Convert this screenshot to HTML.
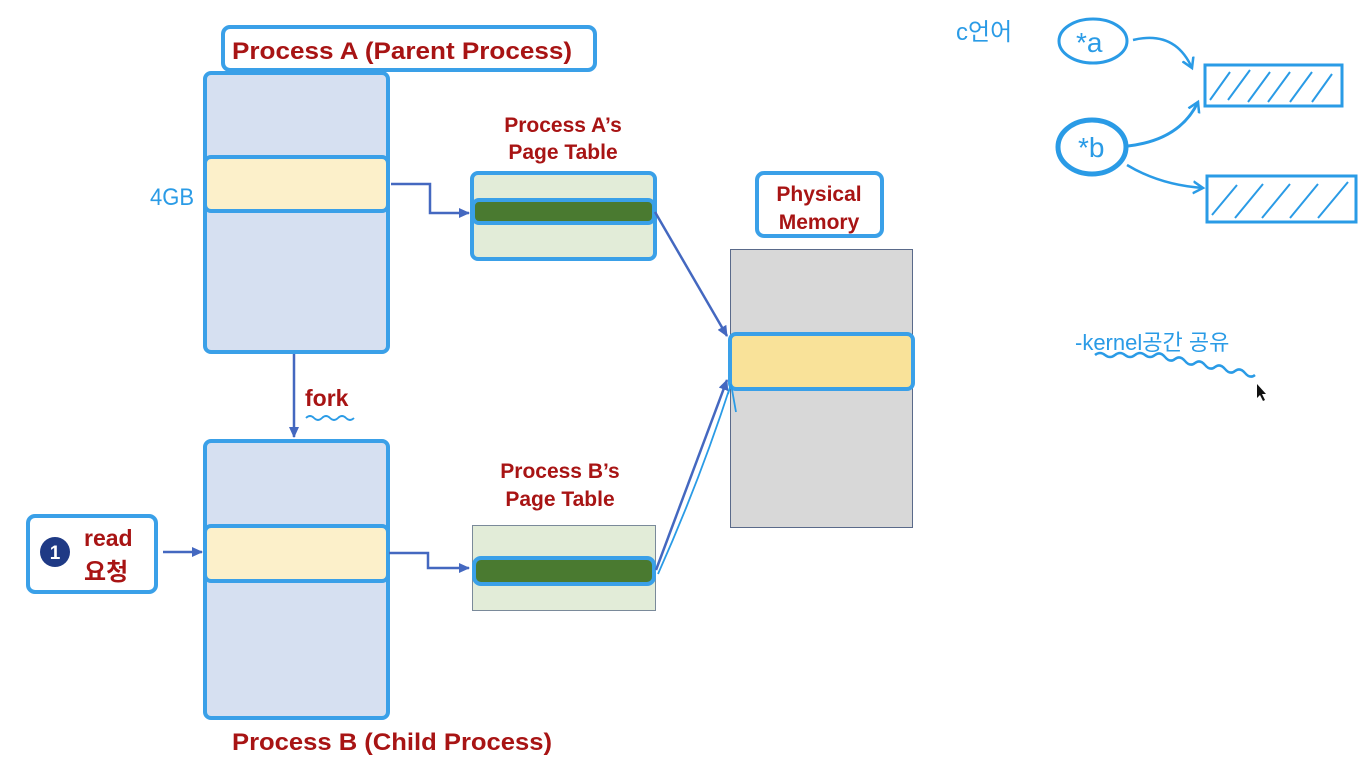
<!DOCTYPE html>
<html><head><meta charset="utf-8"><style>
html,body{margin:0;padding:0;background:#fff;}
svg{display:block;}
.r{font-family:"Liberation Sans","Noto Sans CJK KR",sans-serif;font-weight:bold;fill:#a81414;}
.h{font-family:"Liberation Sans","Noto Sans CJK KR",sans-serif;fill:#2a9be6;}
</style></head><body>
<svg width="1372" height="768" viewBox="0 0 1372 768" xmlns="http://www.w3.org/2000/svg">
<defs>
<marker id="ar" markerWidth="11" markerHeight="10" refX="10" refY="5" orient="auto" markerUnits="userSpaceOnUse"><path d="M0,0 L11,5 L0,10 z" fill="#4468c0"/></marker>
<marker id="hb" markerWidth="14" markerHeight="14" refX="10" refY="7" orient="auto" markerUnits="userSpaceOnUse"><path d="M0,1 L10,7 L0,13" fill="none" stroke="#2a9be6" stroke-width="2.5"/></marker>
</defs>
<!-- Title A -->
<rect x="223" y="27" width="372" height="43" rx="7" fill="#fff" stroke="#3aa0e8" stroke-width="4"/>
<text x="232" y="59" class="r" font-size="24" textLength="340" lengthAdjust="spacingAndGlyphs">Process A (Parent Process)</text>
<!-- Process A -->
<rect x="205" y="73" width="183" height="279" rx="6" fill="#d6e0f1" stroke="#3aa0e8" stroke-width="4"/>
<rect x="205" y="157" width="183" height="54" rx="6" fill="#fcf0ca" stroke="#3aa0e8" stroke-width="4"/>
<text x="150" y="205" class="h" font-size="24" textLength="44" lengthAdjust="spacingAndGlyphs">4GB</text>
<polyline points="391,184 430,184 430,213 469,213" fill="none" stroke="#4468c0" stroke-width="2.5" marker-end="url(#ar)"/>
<!-- Page table A -->
<text x="563" y="132" class="r" font-size="21" text-anchor="middle">Process A’s</text>
<text x="563" y="159" class="r" font-size="21" text-anchor="middle">Page Table</text>
<rect x="472" y="173" width="183" height="86" rx="6" fill="#e2ecd8" stroke="#3aa0e8" stroke-width="4"/>
<rect x="473" y="200" width="181" height="23" rx="6" fill="#4a7a30" stroke="#3aa0e8" stroke-width="4"/>
<!-- Physical memory -->
<rect x="757" y="173" width="125" height="63" rx="7" fill="#fff" stroke="#3aa0e8" stroke-width="4"/>
<text x="819" y="201" class="r" font-size="21" text-anchor="middle">Physical</text>
<text x="819" y="229" class="r" font-size="21" text-anchor="middle">Memory</text>
<rect x="730.5" y="249.5" width="182" height="278" fill="#d8d8d8" stroke="#5a6a8a" stroke-width="1"/>
<rect x="730" y="334" width="183" height="55" rx="6" fill="#f9e299" stroke="#3aa0e8" stroke-width="4"/>
<line x1="655" y1="212" x2="727" y2="336" stroke="#4468c0" stroke-width="2.5" marker-end="url(#ar)"/>
<!-- fork -->
<line x1="294" y1="354" x2="294" y2="437" stroke="#4468c0" stroke-width="2.5" marker-end="url(#ar)"/>
<text x="305" y="406" class="r" font-size="23">fork</text>
<path d="M306,418 q4,-4 8,0 t8,0 t8,0 t8,0 t8,0 t8,0" fill="none" stroke="#2a9be6" stroke-width="1.8"/>
<!-- Process B -->
<rect x="205" y="441" width="183" height="277" rx="6" fill="#d6e0f1" stroke="#3aa0e8" stroke-width="4"/>
<rect x="205" y="526" width="183" height="55" rx="6" fill="#fcf0ca" stroke="#3aa0e8" stroke-width="4"/>
<text x="232" y="750" class="r" font-size="24" textLength="320" lengthAdjust="spacingAndGlyphs">Process B (Child Process)</text>
<!-- read box -->
<rect x="28" y="516" width="128" height="76" rx="7" fill="#fff" stroke="#3aa0e8" stroke-width="4"/>
<circle cx="55" cy="552" r="15" fill="#1f3a85"/>
<text x="55" y="559" font-family="Liberation Sans" font-weight="bold" font-size="19" fill="#fff" text-anchor="middle">1</text>
<text x="84" y="546" class="r" font-size="23">read</text>
<text x="84" y="580" class="r" font-size="24">요청</text>
<line x1="163" y1="552" x2="202" y2="552" stroke="#4468c0" stroke-width="2.5" marker-end="url(#ar)"/>
<polyline points="389,553 428,553 428,568 469,568" fill="none" stroke="#4468c0" stroke-width="2.5" marker-end="url(#ar)"/>
<!-- Page table B -->
<text x="560" y="478" class="r" font-size="21" text-anchor="middle">Process B’s</text>
<text x="560" y="506" class="r" font-size="21" text-anchor="middle">Page Table</text>
<rect x="472.5" y="525.5" width="183" height="85" fill="#e2ecd8" stroke="#7a8a9a" stroke-width="1"/>
<rect x="474" y="558" width="180" height="26" rx="7" fill="#4a7a30" stroke="#3aa0e8" stroke-width="4"/>
<line x1="656" y1="570" x2="727" y2="380" stroke="#4468c0" stroke-width="2.5" marker-end="url(#ar)"/>
<path d="M658,574 Q700,480 731,384 M731,384 l-3,10 M731,384 l5,28" fill="none" stroke="#2a9be6" stroke-width="1.8"/>
<!-- handwriting -->
<text x="956" y="40" class="h" font-size="24" font-weight="normal">c언어</text>
<ellipse cx="1093" cy="41" rx="34" ry="22" fill="none" stroke="#2a9be6" stroke-width="3"/>
<text x="1076" y="52" class="h" font-size="28">*a</text>
<path d="M1133,40 Q1175,30 1192,68" fill="none" stroke="#2a9be6" stroke-width="2.5" marker-end="url(#hb)"/>
<ellipse cx="1092" cy="147" rx="34" ry="27" fill="none" stroke="#2a9be6" stroke-width="5"/>
<text x="1078" y="157" class="h" font-size="28">*b</text>
<path d="M1128,146 Q1180,140 1198,102" fill="none" stroke="#2a9be6" stroke-width="3" marker-end="url(#hb)"/>
<path d="M1127,165 Q1160,185 1203,188" fill="none" stroke="#2a9be6" stroke-width="2.5" marker-end="url(#hb)"/>
<rect x="1205" y="65" width="137" height="41" fill="none" stroke="#2a9be6" stroke-width="3"/>
<rect x="1207" y="176" width="149" height="46" fill="none" stroke="#2a9be6" stroke-width="3"/>
<g stroke="#2a9be6" stroke-width="2">
<path d="M1210,100 l20,-28 M1228,100 l22,-30 M1248,102 l22,-30 M1268,102 l22,-30 M1290,102 l22,-30 M1312,102 l20,-28"/>
<path d="M1212,215 l25,-30 M1235,218 l28,-34 M1262,218 l28,-34 M1290,218 l28,-34 M1318,218 l30,-36"/>
</g>
<text x="1075" y="350" class="h" font-size="22">-kernel공간 공유</text>
<path d="M1095,355 q5,-4 10,0 t10,0 t10,0 t10,0 t10,0 t10,0 t10,2 t10,2 t10,2 t10,2 t10,2 t10,2 t10,2 t10,2 t10,2 t10,2" fill="none" stroke="#2a9be6" stroke-width="2.5"/>
<path d="M1257,384 l0,14 l3,-3 l3,6 l2,-1 l-3,-6 l4,0 z" fill="#111"/>
</svg>
</body></html>
